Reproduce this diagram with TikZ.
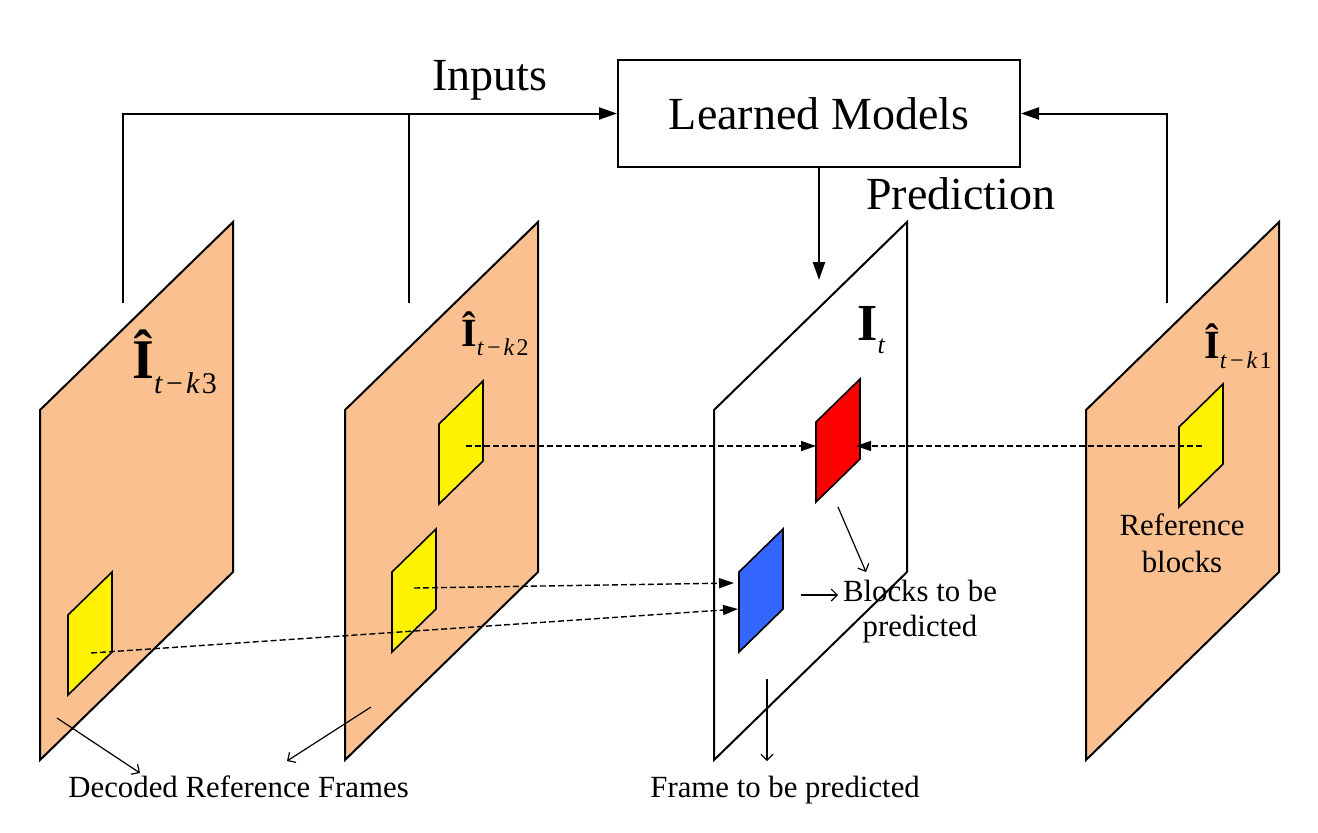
\documentclass[tikz,border=0pt]{standalone}
\usepackage{fontspec}
\setmainfont{Liberation Serif}
\usetikzlibrary{arrows.meta}
\definecolor{framefill}{HTML}{FAC090}
\definecolor{blockblue}{HTML}{3366FF}
\newcommand{\tksub}[1]{\textit{t}\kern1.5pt−\kern1.5pt\textit{k}\kern1pt#1}
\newcommand{\hatlabel}[4]{{\fontsize{#1}{#1}\selectfont\bfseries Î}\raisebox{-#3}{\fontsize{#2}{#2}\selectfont #4}}
\begin{document}
\begin{tikzpicture}[x=0.5pt,y=-0.5pt,
  frame/.style={draw,line width=1pt},
  blk/.style={draw,line width=0.8pt},
  conn/.style={line width=1pt,-{Triangle[length=9pt,width=6pt]}},
  refarrow/.style={line width=0.7pt,dash pattern=on 3pt off 1.5pt,-{Triangle[length=7.5pt,width=5pt]}},
  note/.style={line width=0.6pt,-{Straight Barb[length=3pt,width=6pt]}},
  lbl/.style={inner sep=0pt,font=\fontsize{15.4}{17.5}\selectfont},
  big/.style={inner sep=0pt,font=\fontsize{23}{27}\selectfont}]
  \useasboundingbox (0,0) rectangle (1318,832);
  \foreach \x/\c in {40/framefill,345/framefill,714/white,1086/framefill}
    \draw[frame,fill=\c] (\x,410) -- ++(193,-188) -- ++(0,350) -- ++(-193,188) -- cycle;
  \foreach \x/\y/\c in {68/615/yellow,439/424/yellow,392/572/yellow,816/422/red,739/572/blockblue,1179/427/yellow}
    \draw[blk,fill=\c] (\x,\y) -- ++(44,-43) -- ++(0,80) -- ++(-44,43) -- cycle;

  \node[draw,line width=1pt,minimum width=201pt,minimum height=53.5pt,font=\fontsize{23}{27}\selectfont] (lm) at (819,113.5) {Learned Models};
  \node[big,anchor=base] (inp) at (490,90) {Inputs};
  \node[big,anchor=base west] (pred) at (866,209) {Prediction};

  \coordinate (f3) at (123,303);
  \coordinate (f2) at (409,303);
  \coordinate (f1) at (1167,303);
  \coordinate (ft) at (819,280);
  \draw[conn] (f3) |- (lm.west);
  \draw[line width=1pt] (f2) -- (f2 |- lm.west);
  \draw[conn] (f1) |- (lm.east);
  \draw[conn] (lm.south) -- (ft);

  \coordinate (b3) at (91,653);
  \coordinate (b2a) at (466,446);
  \coordinate (b2b) at (414,588);
  \coordinate (b1) at (1202,446);
  \coordinate (redw) at (816,446);
  \coordinate (rede) at (856,446);
  \coordinate (bluea) at (734,583);
  \coordinate (blueb) at (738,609);
  \draw[refarrow] (b2a) -- (redw);
  \draw[refarrow] (b1) -- (rede);
  \draw[refarrow] (b2b) -- (bluea);
  \draw[refarrow] (b3) -- (blueb);

  \node[anchor=base west,inner sep=0pt] (l3) at (132,378) {\hatlabel{28}{15}{7.5pt}{\tksub{3}}};
  \node[anchor=base west,inner sep=0pt] (l2) at (461,346) {\hatlabel{20}{12}{4.5pt}{\tksub{2}}};
  \node[anchor=base west,inner sep=0pt] (lt) at (857,340) {{\fontsize{26}{26}\selectfont\bfseries I}\raisebox{-6.5pt}{\fontsize{13}{13}\selectfont\itshape t}};
  \node[anchor=base west,inner sep=0pt] (l1) at (1204,358) {\hatlabel{20}{12}{5pt}{\tksub{1}}};

  \node[lbl,align=center,font=\fontsize{15.4}{18.5}\selectfont] (refb) at (1182,543) {Reference\\blocks};
  \node[lbl,align=center] (btbp) at (920,612) {Blocks to be\\predicted};
  \node[lbl,anchor=base west] (dec) at (68,797) {Decoded Reference Frames};
  \node[lbl,anchor=base west] (ftbp) at (650,797) {Frame to be predicted};

  \coordinate (n3) at (57,718);
  \coordinate (d3) at (140,773);
  \coordinate (n2) at (371,707);
  \coordinate (d2) at (287,761);
  \coordinate (nr) at (838,507);
  \coordinate (dr) at (866,572);
  \coordinate (nb) at (801,595);
  \coordinate (db) at (838,595);
  \coordinate (nf) at (767,679);
  \coordinate (df) at (767,761);
  \draw[note] (n3) -- (d3);
  \draw[note] (n2) -- (d2);
  \draw[note] (nr) -- (dr);
  \draw[note] (nb) -- (db);
  \draw[note] (nf) -- (df);
\end{tikzpicture}
\end{document}
